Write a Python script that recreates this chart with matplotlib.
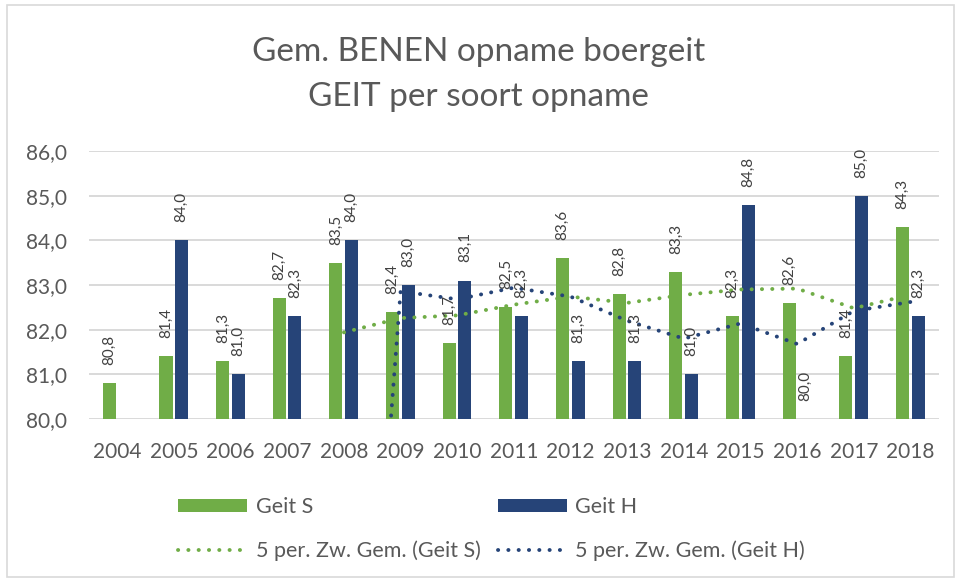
import numpy as np
import matplotlib
matplotlib.use("Agg")
import matplotlib.pyplot as plt
from matplotlib.patches import Rectangle

plt.rcParams['font.family'] = ['Lato', 'DejaVu Sans']

years = ['2004', '2005', '2006', '2007', '2008', '2009', '2010', '2011',
         '2012', '2013', '2014', '2015', '2016', '2017', '2018']
geit_s = [80.8, 81.4, 81.3, 82.7, 83.5, 82.4, 81.7, 82.5, 83.6, 82.8, 83.3, 82.3, 82.6, 81.4, 84.3]
geit_h = [np.nan, 84.0, 81.0, 82.3, 84.0, 83.0, 83.1, 82.3, 81.3, 81.3, 81.0, 84.8, 80.0, 85.0, 82.3]
ma_s = [np.nan, np.nan, np.nan, np.nan, 81.94, 82.26, 82.32, 82.56, 82.74, 82.6, 82.78, 82.9, 82.92, 82.48, 82.78]
ma_h = [np.nan, np.nan, np.nan, np.nan, 66.26, 82.86, 82.68, 82.94, 82.74, 82.2, 81.8, 82.14, 81.68, 82.42, 82.62]

green = '#70AD47'
blue = '#264478'
txt = '#595959'

fig = plt.figure(figsize=(9.57, 5.79), dpi=100)
fig.patches.append(Rectangle((0.007, 0.003), 0.99, 0.989, transform=fig.transFigure,
                             fill=False, edgecolor='#D9D9D9', linewidth=1.2))
ax = fig.add_axes([0.093, 0.2763, 0.888, 0.4629])

x = np.arange(len(years))
w = 0.23
b1 = ax.bar(x - 0.141, np.array(geit_s) - 80, w, bottom=80, color=green, label='Geit S', zorder=2)
b2 = ax.bar(x + 0.133, np.array(geit_h) - 80, w, bottom=80, color=blue, label='Geit H', zorder=2)

l1, = ax.plot(x, ma_s, color=green, linewidth=2.8, linestyle=(0, (0.05, 2.6)),
              dash_capstyle='round', label='5 per. Zw. Gem. (Geit S)', zorder=3)
l2, = ax.plot(x, ma_h, color=blue, linewidth=2.8, linestyle=(0, (0.05, 2.6)),
              dash_capstyle='round', label='5 per. Zw. Gem. (Geit H)', zorder=3)

for xs, vals in ((x - 0.141, geit_s), (x + 0.133, geit_h)):
    for xi, v in zip(xs, vals):
        if np.isnan(v):
            continue
        ax.annotate(f'{v:.1f}'.replace('.', ','), (xi, v), xytext=(0, 13),
                    textcoords='offset points', rotation=90, ha='center', va='bottom',
                    fontsize=11, color='#404040', zorder=4)

ax.set_ylim(80, 86)
ax.set_xlim(-0.5, len(years) - 0.5)
ax.set_yticks(np.arange(80, 86.1, 1))
ax.set_yticklabels([f'{t:.1f}'.replace('.', ',') for t in np.arange(80, 86.1, 1)])
ax.set_xticks(x)
ax.set_xticklabels(years)
ax.tick_params(length=0, labelsize=15, colors=txt)
ax.tick_params(axis='x', pad=16.5)
ax.tick_params(axis='y', pad=16)
ax.grid(axis='y', color='#D9D9D9', linewidth=1.4, zorder=0)
ax.set_axisbelow(True)
for s in ax.spines.values():
    s.set_visible(False)

fig.text(0.5, 0.91, 'Gem. BENEN opname boergeit', ha='center', va='center', fontsize=24, color=txt)
fig.text(0.5, 0.832, 'GEIT per soort opname', ha='center', va='center', fontsize=24, color=txt)

fig.legend([b1, l1, b2, l2], ['Geit S', '5 per. Zw. Gem. (Geit S)', 'Geit H', '5 per. Zw. Gem. (Geit H)'],
           ncol=2, loc='upper left', bbox_to_anchor=(0.166, 0.175), frameon=False,
           fontsize=15.5, labelcolor=txt, handlelength=3.2, handleheight=0.6,
           labelspacing=1.1, columnspacing=0.8, handletextpad=0.4)

fig.savefig('out.png', dpi=100)
